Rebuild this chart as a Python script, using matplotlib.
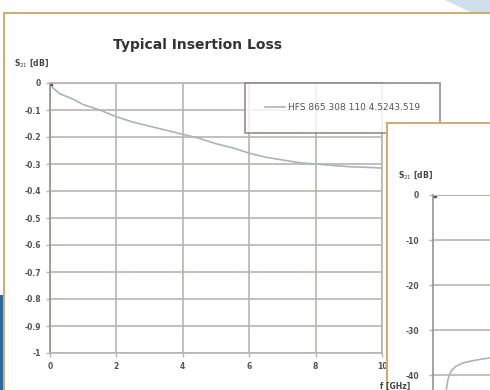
import numpy as np
import matplotlib.pyplot as plt
from matplotlib.patches import Rectangle, Polygon

# datos de la curva de pérdida de inserción
freq = [0, 0.1, 0.3, 0.7, 1, 1.5, 2, 2.5, 3, 3.5, 4, 4.5, 5, 5.5, 6, 6.5, 7, 7.5, 8, 8.5, 9, 9.5, 10]
loss = [0, -0.02, -0.04, -0.06, -0.08, -0.10, -0.125, -0.145, -0.16, -0.175, -0.19, -0.205, -0.225, -0.24, -0.26, -0.275, -0.285, -0.295, -0.30, -0.305, -0.31, -0.312, -0.315]
serie = 'HFS 865 308 110 4.5243.519'

y_ticks = [0, -0.1, -0.2, -0.3, -0.4, -0.5, -0.6, -0.7, -0.8, -0.9, -1]
y_labels = ['0', '-0.1', '-0.2', '-0.3', '-0.4', '-0.5', '-0.6', '-0.7', '-0.8', '-0.9', '-1']
x_ticks = [0, 2, 4, 6, 8, 10]

# segundo gráfico (parcialmente visible)
rej_freq = [0.4, 0.45, 0.55, 0.7, 0.9, 1.2, 1.5, 1.8]
rej = [-43.3, -41, -39, -38, -37.3, -36.8, -36.4, -36.1]
rej_ticks = [0, -10, -20, -30, -40]
rej_labels = ['0', '-10', '-20', '-30', '-40']

W, H = 490, 390
grid_c = '#bcb3ad'
txt_c = '#555555'
tan = '#cfae74'

fig = plt.figure(figsize=(W / 100, H / 100), dpi=100, facecolor='white')

def fx(px):
    return px / W

def fy(py):
    return 1 - py / H

# fondo de la foto
fig.patches.append(Rectangle((0, 0), fx(4), fy(295), transform=fig.transFigure,
                             facecolor='#2c6a9c', edgecolor='none', zorder=-2))
fig.patches.append(Polygon([[fx(445), 1], [fx(490), 1], [fx(490), fy(12)], [fx(470), fy(12)]],
                           closed=True, transform=fig.transFigure,
                           facecolor='#cfe0ec', edgecolor='none', zorder=-2))
fig.patches.append(Rectangle((fx(4), -0.1), 1.2, fy(13) + 0.1, transform=fig.transFigure,
                             facecolor='white', edgecolor=tan, lw=1.5, zorder=-1))

# gráfico principal
ax = fig.add_axes([fx(50), fy(353), fx(382) - fx(50), fy(83) - fy(353)])
ax.plot(freq, loss, color='#a7b6bd', lw=1.2, label=serie)
ax.plot(freq[0], loss[0], 's', color='#555555', ms=2.5)
ax.set_xlim(0, 10)
ax.set_ylim(-1, 0)
ax.set_yticks(y_ticks)
ax.set_yticklabels(y_labels)
ax.set_xticks(x_ticks)
ax.grid(True, color=grid_c, lw=1.2)
ax.tick_params(colors=grid_c, labelcolor=txt_c, labelsize=5.5, length=3, width=1)
for lab in ax.get_xticklabels() + ax.get_yticklabels():
    lab.set_fontweight('bold')
for s in ax.spines.values():
    s.set_color(grid_c)
    s.set_linewidth(1.2)
ax.spines['left'].set_color('#9a918b')
ax.set_facecolor('none')

leg = ax.legend(loc='upper left', bbox_to_anchor=(0.587, 1.0), borderaxespad=0,
                fontsize=6.5, frameon=True, fancybox=False, borderpad=2.25,
                handlelength=2.2, handletextpad=0.3)
leg.get_frame().set_edgecolor('#8f8580')
leg.get_frame().set_linewidth(1.4)
for t in leg.get_texts():
    t.set_color(txt_c)

fig.text(fx(197), fy(45), 'Typical Insertion Loss', ha='center', va='center',
         fontsize=10, fontweight='bold', color='#333333')
fig.text(fx(14), fy(63), 'S$_{21}$ [dB]', ha='left', va='center', fontsize=5.5,
         fontweight='bold', color='#444444')
fig.text(fx(380), fy(386), 'f [GHz]', ha='left', va='center', fontsize=5.5,
         fontweight='bold', color='#444444')

# panel del segundo gráfico encima
fig.patches.append(Rectangle((fx(387), -0.1), 1, fy(123) + 0.1, transform=fig.transFigure,
                             facecolor='white', edgecolor=tan, lw=1.5, zorder=1))
fig.text(fx(398), fy(175), 'S$_{21}$ [dB]', ha='left', va='center', fontsize=5.5,
         fontweight='bold', color='#444444', zorder=3)

ax2 = fig.add_axes([fx(433), 0, fx(490) - fx(433), fy(195)], zorder=2)
ax2.plot(rej_freq, rej, color='#a7b6bd', lw=1.2)
ax2.plot(0.03, 0, 's', color='#555555', ms=2.5)
ax2.set_xlim(0, 1.72)
ax2.set_ylim(-43.3, 0)
ax2.set_yticks(rej_ticks)
ax2.set_yticklabels(rej_labels)
ax2.set_xticks([])
ax2.grid(True, axis='y', color=grid_c, lw=1.2)
ax2.tick_params(colors=grid_c, labelcolor=txt_c, labelsize=5.5, length=3, width=1, pad=7)
for lab in ax2.get_yticklabels():
    lab.set_fontweight('bold')
for k in ['right', 'bottom']:
    ax2.spines[k].set_visible(False)
ax2.spines['top'].set_color(grid_c)
ax2.spines['left'].set_color('#9a918b')
ax2.spines['left'].set_linewidth(1.2)
ax2.set_facecolor('none')

fig.savefig('out.png', dpi=100, facecolor='white')
